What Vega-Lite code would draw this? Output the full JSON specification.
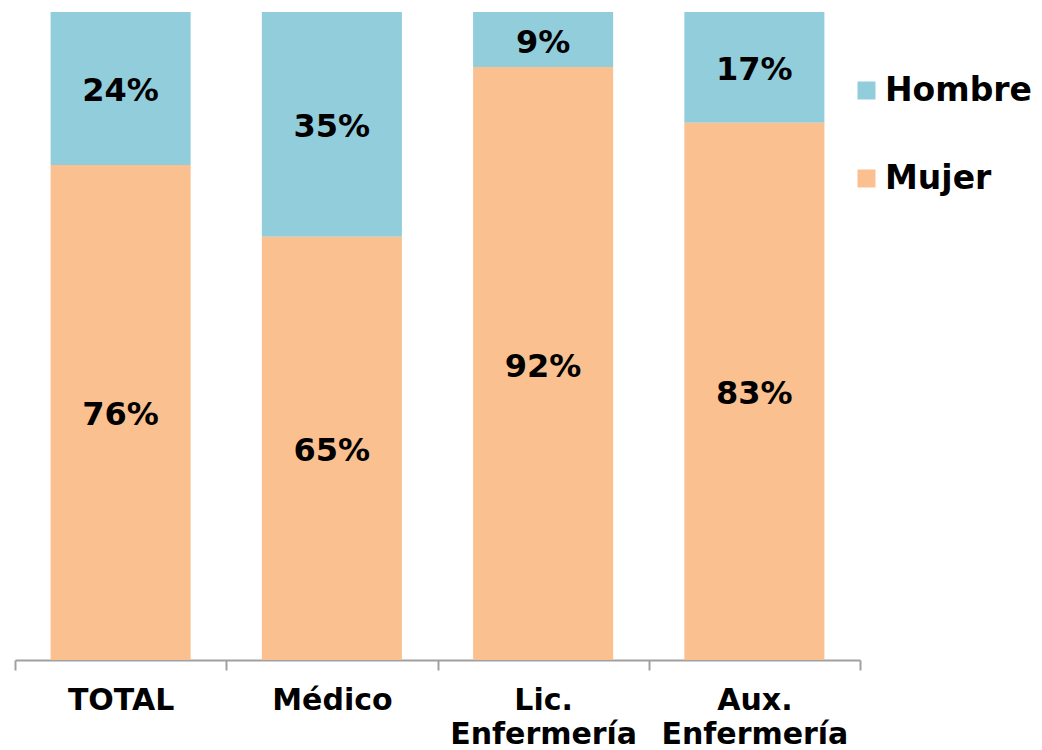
{
  "$schema": "https://vega.github.io/schema/vega-lite/v6.json",
  "width": 845,
  "height": 648,
  "autosize": {"type": "none"},
  "padding": {"left": 15, "top": 12, "right": 182, "bottom": 90},
  "background": "white",
  "config": {
    "view": {"stroke": null},
    "font": "DejaVu Sans"
  },
  "data": {
    "values": [
      {"categoria": "TOTAL", "sexo": "Hombre", "valor": 0.236},
      {"categoria": "TOTAL", "sexo": "Mujer", "valor": 0.764},
      {"categoria": "Médico", "sexo": "Hombre", "valor": 0.347},
      {"categoria": "Médico", "sexo": "Mujer", "valor": 0.653},
      {"categoria": "Lic. Enfermería", "sexo": "Hombre", "valor": 0.085},
      {"categoria": "Lic. Enfermería", "sexo": "Mujer", "valor": 0.915},
      {"categoria": "Aux. Enfermería", "sexo": "Hombre", "valor": 0.171},
      {"categoria": "Aux. Enfermería", "sexo": "Mujer", "valor": 0.829}
    ]
  },
  "encoding": {
    "x": {
      "field": "categoria",
      "type": "nominal",
      "sort": ["TOTAL", "Médico", "Lic. Enfermería", "Aux. Enfermería"],
      "scale": {"paddingInner": 0, "paddingOuter": 0},
      "axis": {
        "title": null,
        "labelAngle": 0,
        "labelExpr": "split(datum.label, ' ')",
        "labelFont": "DejaVu Sans",
        "labelFontWeight": "bold",
        "labelFontSize": 30,
        "labelColor": "black",
        "labelLineHeight": 34,
        "labelPadding": 15,
        "labelBaseline": "top",
        "labelLimit": 400,
        "tickBand": "extent",
        "tickSize": 10,
        "tickColor": "#a0a0a0",
        "tickWidth": 2,
        "domainColor": "#a0a0a0",
        "domainWidth": 2,
        "grid": false
      }
    },
    "y": {
      "field": "valor",
      "type": "quantitative",
      "stack": "zero",
      "scale": {"domain": [0, 1], "nice": false},
      "axis": null
    },
    "order": {"field": "sexo", "sort": "descending"}
  },
  "layer": [
    {
      "mark": {"type": "bar", "width": {"band": 0.663}},
      "encoding": {
        "color": {
          "field": "sexo",
          "type": "nominal",
          "scale": {"domain": ["Hombre", "Mujer"], "range": ["#92CDDC", "#FAC090"]},
          "legend": {
            "title": null,
            "orient": "none",
            "legendX": 835,
            "legendY": 62,
            "padding": 0,
            "symbolType": "square",
            "symbolSize": 324,
            "symbolStrokeWidth": 0,
            "labelFont": "DejaVu Sans",
            "labelFontWeight": "bold",
            "labelFontSize": 33,
            "labelColor": "black",
            "labelOffset": 2,
            "rowPadding": 54,
            "labelLimit": 300
          }
        }
      }
    },
    {
      "mark": {
        "type": "text",
        "font": "DejaVu Sans",
        "fontWeight": "bold",
        "fontSize": 32,
        "color": "black",
        "baseline": "middle",
        "dy": 3
      },
      "encoding": {
        "y": {"field": "valor", "type": "quantitative", "stack": "zero", "bandPosition": 0.5},
        "text": {"field": "valor", "type": "quantitative", "format": ".0%"}
      }
    }
  ]
}
